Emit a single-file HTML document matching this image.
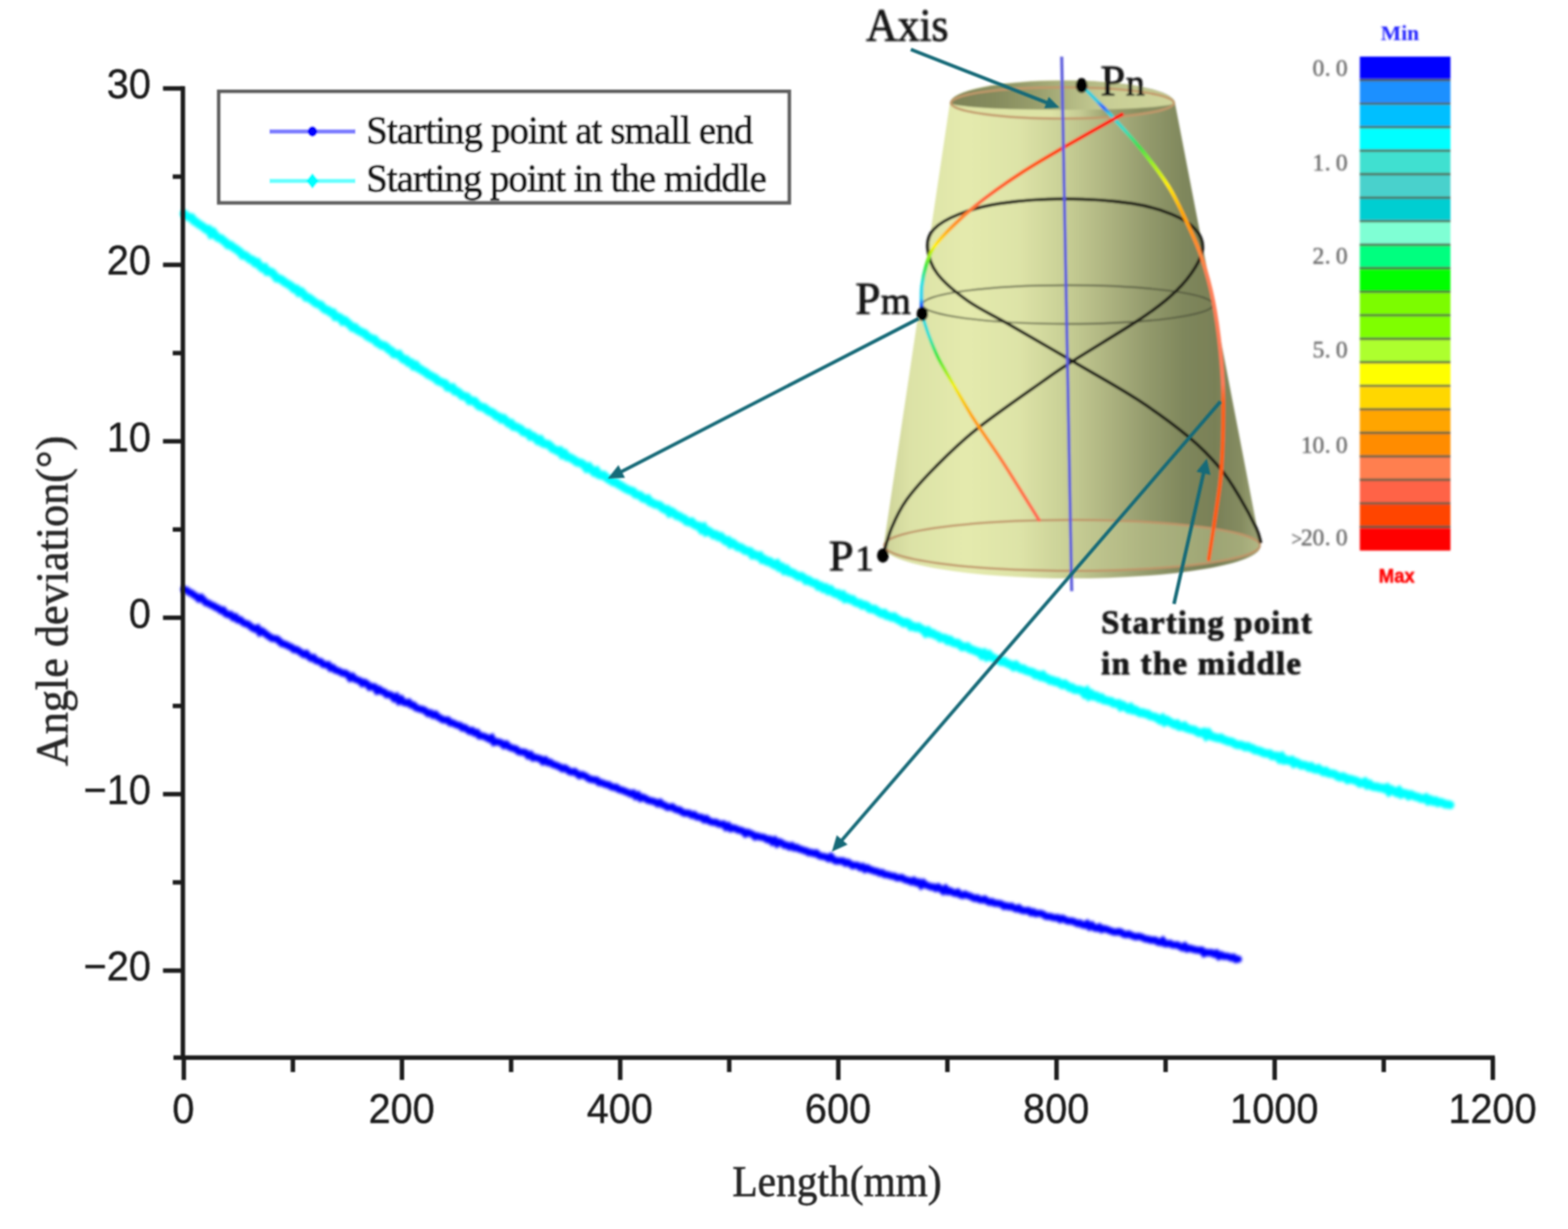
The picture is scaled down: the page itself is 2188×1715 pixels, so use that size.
<!DOCTYPE html>
<html lang="en">
<head>
<meta charset="utf-8">
<title>Angle deviation vs length</title>
<style>
html,body{margin:0;padding:0;background:#ffffff;}
body{width:2188px;height:1715px;overflow:hidden;}
svg{display:block;}
</style>
</head>
<body>
<svg role="img" aria-label="Angle deviation versus length for two starting points on a conical mandrel" width="2188" height="1715" viewBox="0 0 2188 1715">
<defs>
<linearGradient id="gBody" x1="0" y1="0" x2="1" y2="0"><stop offset="0" stop-color="#ccd298"/><stop offset="0.07" stop-color="#dce2a6"/><stop offset="0.22" stop-color="#e4eaad"/><stop offset="0.36" stop-color="#dde3a7"/><stop offset="0.47" stop-color="#cad197"/><stop offset="0.58" stop-color="#b1b783"/><stop offset="0.7" stop-color="#939a6c"/><stop offset="0.8" stop-color="#7e865b"/><stop offset="0.88" stop-color="#798057"/><stop offset="0.95" stop-color="#858c61"/><stop offset="1" stop-color="#9da476"/></linearGradient>
<linearGradient id="gBand" x1="0" y1="0" x2="1" y2="0"><stop offset="0" stop-color="#7d8357"/><stop offset="0.25" stop-color="#8e9464"/><stop offset="0.5" stop-color="#aab07c"/><stop offset="0.75" stop-color="#bcc28b"/><stop offset="1" stop-color="#c5cb92"/></linearGradient>
<linearGradient id="gTop" x1="0" y1="0" x2="1" y2="0"><stop offset="0" stop-color="#7d8357"/><stop offset="0.2" stop-color="#858b5d"/><stop offset="0.4" stop-color="#9aa06e"/><stop offset="0.55" stop-color="#b4ba84"/><stop offset="0.7" stop-color="#c8ce95"/><stop offset="1" stop-color="#cfd59b"/></linearGradient>
<linearGradient id="gFloor" x1="0" y1="0" x2="1" y2="0"><stop offset="0" stop-color="#e2e8ab" stop-opacity="0"/><stop offset="0.45" stop-color="#e2e8ab" stop-opacity="0.05"/><stop offset="0.62" stop-color="#dde3a6" stop-opacity="0.3"/><stop offset="0.8" stop-color="#d8dea2" stop-opacity="0.42"/><stop offset="1" stop-color="#d8dea2" stop-opacity="0.35"/></linearGradient>
<linearGradient id="gCres" x1="0" y1="0" x2="1" y2="0"><stop offset="0" stop-color="#dfe5a6"/><stop offset="0.45" stop-color="#dde3a5"/><stop offset="0.58" stop-color="#c5cb93"/><stop offset="0.7" stop-color="#9aa06e"/><stop offset="0.85" stop-color="#878d5f"/><stop offset="1" stop-color="#8a9062"/></linearGradient>
<linearGradient id="gGeoA" gradientUnits="userSpaceOnUse" x1="0" y1="118" x2="0" y2="781"><stop offset="0" stop-color="#3fd6d0"/><stop offset="0.035" stop-color="#38c8e0"/><stop offset="0.048" stop-color="#3060ff"/><stop offset="0.062" stop-color="#35cfd8"/><stop offset="0.095" stop-color="#40dcc0"/><stop offset="0.13" stop-color="#40e050"/><stop offset="0.17" stop-color="#a8f020"/><stop offset="0.21" stop-color="#ffee00"/><stop offset="0.27" stop-color="#ffa800"/><stop offset="0.33" stop-color="#ff8c28"/><stop offset="0.4" stop-color="#ff8058"/><stop offset="0.63" stop-color="#ff7a5a"/><stop offset="0.67" stop-color="#ff6018"/><stop offset="1" stop-color="#ff5a10"/></linearGradient>
<linearGradient id="gGeoB" gradientUnits="userSpaceOnUse" x1="0" y1="159" x2="0" y2="430"><stop offset="0" stop-color="#ff1010"/><stop offset="0.12" stop-color="#ff2a10"/><stop offset="0.25" stop-color="#ff5510"/><stop offset="0.45" stop-color="#ff6a40"/><stop offset="0.58" stop-color="#ff9a20"/><stop offset="0.68" stop-color="#fff000"/><stop offset="0.78" stop-color="#40e840"/><stop offset="0.87" stop-color="#30e0e0"/><stop offset="0.95" stop-color="#30d0f0"/><stop offset="1" stop-color="#1030ff"/></linearGradient>
<linearGradient id="gGeoC" gradientUnits="userSpaceOnUse" x1="0" y1="440" x2="0" y2="726"><stop offset="0" stop-color="#30d8e0"/><stop offset="0.1" stop-color="#30e0d0"/><stop offset="0.2" stop-color="#40e840"/><stop offset="0.34" stop-color="#f0f000"/><stop offset="0.5" stop-color="#ffa500"/><stop offset="0.7" stop-color="#ff8040"/><stop offset="1" stop-color="#ff6a55"/></linearGradient>
<filter id="softA" x="-1%" y="-1%" width="102%" height="102%"><feGaussianBlur stdDeviation="1.1"/></filter>
<filter id="softC" x="-1%" y="-1%" width="102%" height="102%"><feGaussianBlur stdDeviation="1.9"/></filter>
<filter id="softB" x="-3%" y="-3%" width="106%" height="106%"><feGaussianBlur stdDeviation="1.6"/></filter>
</defs>
<rect x="0" y="0" width="2188" height="1715" fill="#ffffff"/>
<g filter="url(#softC)">
<path d="M257.0 298.2 L260.4 301.5 L263.8 303.1 L267.2 303.5 L270.6 308.2 L274.0 310.2 L277.4 312.9 L280.8 314.8 L284.2 317.2 L287.6 320.0 L291.0 319.9 L294.4 326.3 L297.8 324.4 L301.2 329.0 L304.7 332.0 L308.1 332.5 L311.5 335.8 L314.9 338.2 L318.3 342.0 L321.7 342.1 L325.1 345.0 L328.5 347.0 L331.9 349.4 L335.3 352.0 L338.7 356.3 L342.1 356.3 L345.5 358.9 L348.9 362.1 L352.3 362.7 L355.7 366.7 L359.1 366.1 L362.5 371.0 L365.9 374.1 L369.3 373.3 L372.7 379.0 L376.1 378.9 L379.5 380.3 L382.9 384.0 L386.3 388.4 L389.7 388.7 L393.1 390.5 L396.6 393.4 L400.0 395.5 L403.4 397.3 L406.8 399.6 L410.2 403.2 L413.6 403.2 L417.0 408.2 L420.4 407.2 L423.8 410.7 L427.2 415.1 L430.6 415.3 L434.0 417.8 L437.4 420.4 L440.8 423.1 L444.2 424.5 L447.6 425.6 L451.0 429.7 L454.4 432.2 L457.8 433.0 L461.2 436.1 L464.6 436.3 L468.0 442.0 L471.4 442.0 L474.8 443.5 L478.2 448.4 L481.6 447.4 L485.0 450.5 L488.4 453.3 L491.9 457.2 L495.3 456.9 L498.7 460.7 L502.1 462.2 L505.5 464.0 L508.9 465.3 L512.3 469.0 L515.7 471.0 L519.1 472.9 L522.5 473.4 L525.9 478.1 L529.3 479.6 L532.7 482.2 L536.1 482.2 L539.5 484.6 L542.9 488.1 L546.3 489.6 L549.7 494.0 L553.1 494.4 L556.5 494.2 L559.9 498.8 L563.3 501.7 L566.7 501.7 L570.1 505.9 L573.5 506.1 L576.9 510.7 L580.3 509.6 L583.8 514.0 L587.2 515.4 L590.6 517.9 L594.0 519.4 L597.4 522.7 L600.8 524.1 L604.2 526.2 L607.6 527.7 L611.0 531.4 L614.4 532.7 L617.8 534.2 L621.2 535.2 L624.6 540.5 L628.0 541.2 L631.4 540.8 L634.8 545.9 L638.2 546.3 L641.6 548.9 L645.0 552.5 L648.4 552.9 L651.8 554.0 L655.2 559.2 L658.6 559.1 L662.0 559.7 L665.4 563.7 L668.8 567.0 L672.2 568.0 L675.7 568.7 L679.1 571.7 L682.5 574.1 L685.9 575.1 L689.3 577.3 L692.7 580.7 L696.1 581.3 L699.5 584.9 L702.9 583.9 L706.3 587.3 L709.7 590.7 L713.1 590.5 L716.5 595.2 L719.9 595.6 L723.3 597.2 L726.7 598.7 L730.1 602.9 L733.5 603.8 L736.9 604.3 L740.3 609.1 L743.7 608.5 L747.1 611.0 L750.5 614.8 L753.9 613.5 L757.3 618.4 L760.7 619.6 L764.1 619.7 L767.5 622.0 L771.0 626.0 L774.4 627.4 L777.8 629.3 L781.2 628.7 L784.6 634.3 L788.0 633.0 L791.4 637.8 L794.8 638.2 L798.2 640.2 L801.6 642.2 L805.0 644.9 L808.4 645.6 L811.8 646.6 L815.2 649.2 L818.6 653.4 L822.0 651.5 L825.4 655.5 L828.8 658.8 L832.2 657.1 L835.6 662.5 L839.0 663.4 L842.4 662.9 L845.8 666.0 L849.2 668.8 L852.6 670.6 L856.0 672.9 L859.4 672.9 L862.9 676.0 L866.3 677.5 L869.7 679.8 L873.1 681.9 L876.5 683.5 L879.9 684.8 L883.3 685.7 L886.7 689.7 L890.1 690.5 L893.5 691.5 L896.9 695.1 L900.3 696.3 L903.7 695.8 L907.1 700.6 L910.5 701.6 L913.9 703.8 L917.3 704.2 L920.7 705.4 L924.1 708.9 L927.5 710.9 L930.9 710.8 L934.3 715.8 L937.7 714.2 L941.1 716.6 L944.5 719.8 L947.9 720.2 L951.3 722.8 L954.8 723.9 L958.2 727.7 L961.6 728.6 L965.0 728.0 L968.4 731.7 L971.8 733.6 L975.2 733.9 L978.6 738.5 L982.0 736.1 L985.4 742.4 L988.8 741.1 L992.2 743.3 L995.6 746.6 L999.0 746.1 L1002.4 749.1 L1005.8 748.5 L1009.2 752.1 L1012.6 755.0 L1016.0 754.3 L1019.4 759.2 L1022.8 758.0 L1026.2 760.6 L1029.6 763.5 L1033.0 763.6 L1036.4 765.6 L1039.8 768.4 L1043.2 768.8 L1046.6 769.6 L1050.1 774.6 L1053.5 774.0 L1056.9 776.1 L1060.3 775.5 L1063.7 781.0 L1067.1 780.6 L1070.5 783.7 L1073.9 783.3 L1077.3 786.4 L1080.7 788.4 L1084.1 786.7 L1087.5 791.9 L1090.9 791.1 L1094.3 796.0 L1097.7 794.3 L1101.1 798.4 L1104.5 798.8 L1107.9 800.4 L1111.3 802.8 L1114.7 804.8 L1118.1 804.0 L1121.5 806.2 L1124.9 810.2 L1128.3 809.5 L1131.7 812.1 L1135.1 813.6 L1138.5 814.1 L1142.0 818.3 L1145.4 817.6 L1148.8 821.3 L1152.2 820.2 L1155.6 824.2 L1159.0 822.8 L1162.4 826.5 L1165.8 828.4 L1169.2 828.0 L1172.6 831.4 L1176.0 830.1 L1179.4 835.4 L1182.8 834.3 L1186.2 836.8 L1189.6 836.5 L1193.0 840.1 L1196.4 841.5 L1199.8 841.7 L1203.2 844.7 L1206.6 844.1 L1210.0 845.6 L1213.4 849.4 L1216.8 850.1 L1220.2 849.8 L1223.6 852.4 L1227.0 854.6 L1230.4 856.4 L1233.9 855.7 L1237.3 859.2 L1240.7 859.6 L1244.1 861.5 L1247.5 860.5 L1250.9 863.3 L1254.3 865.3 L1257.7 867.1 L1261.1 869.5 L1264.5 868.4 L1267.9 869.9 L1271.3 874.3 L1274.7 873.8 L1278.1 875.8 L1281.5 874.7 L1284.9 877.2 L1288.3 878.9 L1291.7 883.1 L1295.1 880.5 L1298.5 884.0 L1301.9 883.8 L1305.3 886.5 L1308.7 887.1 L1312.1 890.5 L1315.5 889.9 L1318.9 890.6 L1322.3 894.1 L1325.7 893.1 L1329.2 896.4 L1332.6 897.5 L1336.0 897.3 L1339.4 899.8 L1342.8 902.9 L1346.2 902.5 L1349.6 902.1 L1353.0 905.5 L1356.4 906.5 L1359.8 907.9 L1363.2 909.3 L1366.6 910.1 L1370.0 914.1 L1373.4 911.7 L1376.8 916.2 L1380.2 913.6 L1383.6 917.1 L1387.0 918.3 L1390.4 920.1 L1393.8 921.3 L1397.2 923.4 L1400.6 922.4 L1404.0 924.9 L1407.4 926.5 L1410.8 927.7 L1414.2 930.5 L1417.6 928.2 L1421.1 931.3 L1424.5 933.3 L1427.9 933.1 L1431.3 935.7 L1434.7 936.6 L1438.1 937.5 L1441.5 938.5 L1444.9 941.9 L1448.3 941.5 L1451.7 944.0 L1455.1 942.2 L1458.5 946.0 L1461.9 946.6 L1465.3 949.5 L1468.7 949.1 L1472.1 951.4 L1475.5 951.1 L1478.9 953.6 L1482.3 955.7 L1485.7 954.2 L1489.1 956.8 L1492.5 959.5 L1495.9 959.3 L1499.3 962.2 L1502.7 962.5 L1506.1 962.6 L1509.5 963.8 L1513.0 967.8 L1516.4 964.8 L1519.8 970.9 L1523.2 968.5 L1526.6 971.6 L1530.0 971.0 L1533.4 974.2 L1536.8 973.4 L1540.2 976.9 L1543.6 977.4 L1547.0 978.3 L1550.4 978.6 L1553.8 981.6 L1557.2 981.9 L1560.6 981.7 L1564.0 986.2 L1567.4 984.4 L1570.8 986.8 L1574.2 989.3 L1577.6 987.2 L1581.0 991.2 L1584.4 990.7 L1587.8 993.1 L1591.2 994.9 L1594.6 994.4 L1598.0 996.1 L1601.4 996.2 L1604.8 999.0 L1608.3 999.7 L1611.7 1000.3 L1615.1 1002.5 L1618.5 1004.9 L1621.9 1002.5 L1625.3 1007.3 L1628.7 1005.1 L1632.1 1007.2 L1635.5 1009.4 L1638.9 1011.1 L1642.3 1010.0 L1645.7 1013.9 L1649.1 1014.0 L1652.5 1012.8 L1655.9 1016.2 L1659.3 1017.1 L1662.7 1018.2 L1666.1 1018.4 L1669.5 1020.6 L1672.9 1022.6 L1676.3 1022.5 L1679.7 1021.6 L1683.1 1026.5 L1686.5 1023.3 L1689.9 1027.4 L1693.3 1028.3 L1696.7 1029.2 L1700.2 1030.2 L1703.6 1029.5 L1707.0 1032.1 L1710.4 1033.0 L1713.8 1034.6 L1717.2 1034.9 L1720.6 1036.3 L1724.0 1038.6 L1727.4 1039.5 L1730.8 1039.4 L1734.2 1040.5 L1737.6 1042.5 L1741.0 1041.6 L1744.4 1043.5 L1747.8 1044.2 L1751.2 1046.8 L1754.6 1047.2 L1758.0 1048.0 L1761.4 1049.8 L1764.8 1051.1 L1768.2 1051.4 L1771.6 1051.5 L1775.0 1054.8 L1778.4 1054.6 L1781.8 1054.8 L1785.2 1058.8 L1788.6 1056.1 L1792.1 1061.0 L1795.5 1060.4 L1798.9 1061.6 L1802.3 1060.7 L1805.7 1065.4 L1809.1 1063.8 L1812.5 1065.5 L1815.9 1068.1 L1819.3 1067.5 L1822.7 1068.5 L1826.1 1070.9 L1829.5 1069.6 L1832.9 1072.7 L1836.3 1073.8 L1839.7 1072.3 L1843.1 1075.0 L1846.5 1077.2 L1849.9 1075.9 L1853.3 1078.8 L1856.7 1079.7 L1860.1 1079.7 L1863.5 1080.9 L1866.9 1083.6 L1870.3 1084.7 L1873.7 1083.6 L1877.1 1085.1 L1880.5 1088.1 L1883.9 1087.1 L1887.4 1088.1 L1890.8 1089.0 L1894.2 1090.3 L1897.6 1093.1 L1901.0 1092.8 L1904.4 1091.2 L1907.8 1095.6 L1911.2 1094.1 L1914.6 1097.1 L1918.0 1098.0 L1921.4 1097.8 L1924.8 1099.3 L1928.2 1099.4 L1931.6 1100.8 L1935.0 1099.2 L1938.4 1104.6 L1941.8 1102.1 L1945.2 1104.1 L1948.6 1106.1 L1952.0 1103.6 L1955.4 1108.3 L1958.8 1106.8 L1962.2 1107.5 L1965.6 1110.6 L1969.0 1108.8 L1972.4 1110.3 L1975.8 1111.9 L1979.3 1112.5 L1982.7 1114.5 L1986.1 1114.6 L1989.5 1113.2 L1992.9 1117.6 L1996.3 1115.9 L1999.7 1118.4 L2003.1 1117.4 L2006.5 1120.3 L2009.9 1119.4 L2013.3 1120.4 L2016.7 1122.3 L2020.1 1122.4 L2023.5 1123.2" fill="none" stroke="#00ffff" stroke-width="11.8" stroke-linecap="round" stroke-linejoin="miter"/>
<path d="M257.0 822.5 L260.4 823.6 L263.8 826.4 L267.2 827.7 L270.6 830.4 L274.0 832.2 L277.4 835.7 L280.8 833.9 L284.2 837.5 L287.6 841.1 L291.1 841.9 L294.5 844.3 L297.9 845.3 L301.3 847.7 L304.7 848.9 L308.1 852.0 L311.5 851.4 L314.9 856.2 L318.3 857.6 L321.7 857.5 L325.1 861.4 L328.5 860.7 L331.9 865.0 L335.3 865.0 L338.7 868.3 L342.1 870.2 L345.5 870.8 L348.9 873.4 L352.3 876.2 L355.7 877.8 L359.2 876.5 L362.6 882.6 L366.0 880.9 L369.4 883.4 L372.8 886.3 L376.2 888.5 L379.6 890.8 L383.0 891.1 L386.4 891.7 L389.8 894.8 L393.2 897.9 L396.6 898.8 L400.0 900.1 L403.4 902.0 L406.8 903.3 L410.2 906.5 L413.6 906.4 L417.0 908.4 L420.4 911.0 L423.8 913.3 L427.3 911.9 L430.7 916.0 L434.1 918.5 L437.5 917.6 L440.9 921.7 L444.3 922.7 L447.7 923.5 L451.1 927.2 L454.5 927.8 L457.9 927.6 L461.3 932.3 L464.7 931.8 L468.1 935.2 L471.5 935.9 L474.9 937.7 L478.3 939.5 L481.7 939.4 L485.1 941.4 L488.5 946.2 L492.0 944.1 L495.4 947.7 L498.8 948.9 L502.2 950.1 L505.6 953.7 L509.0 952.3 L512.4 954.4 L515.8 958.9 L519.2 958.1 L522.6 958.6 L526.0 963.9 L529.4 962.1 L532.8 964.8 L536.2 965.7 L539.6 969.4 L543.0 969.1 L546.4 970.4 L549.8 974.4 L553.2 972.3 L556.6 978.1 L560.1 975.8 L563.5 980.2 L566.9 981.1 L570.3 980.0 L573.7 983.9 L577.1 984.0 L580.5 987.7 L583.9 988.8 L587.3 989.8 L590.7 990.3 L594.1 992.5 L597.5 995.7 L600.9 995.0 L604.3 998.1 L607.7 996.8 L611.1 1000.4 L614.5 1002.1 L617.9 1004.3 L621.3 1004.7 L624.8 1004.7 L628.2 1008.6 L631.6 1008.8 L635.0 1010.5 L638.4 1011.9 L641.8 1012.4 L645.2 1015.7 L648.6 1015.4 L652.0 1018.0 L655.4 1020.5 L658.8 1019.4 L662.2 1022.9 L665.6 1022.2 L669.0 1026.8 L672.4 1026.9 L675.8 1027.7 L679.2 1029.5 L682.6 1031.4 L686.0 1029.6 L689.4 1036.0 L692.9 1035.1 L696.3 1035.7 L699.7 1036.9 L703.1 1040.2 L706.5 1038.6 L709.9 1041.9 L713.3 1043.6 L716.7 1044.4 L720.1 1045.3 L723.5 1048.7 L726.9 1049.4 L730.3 1049.5 L733.7 1050.4 L737.1 1054.4 L740.5 1053.0 L743.9 1057.5 L747.3 1057.0 L750.7 1058.1 L754.1 1058.9 L757.5 1062.6 L761.0 1060.6 L764.4 1064.1 L767.8 1063.9 L771.2 1066.6 L774.6 1067.6 L778.0 1068.9 L781.4 1070.4 L784.8 1072.7 L788.2 1071.7 L791.6 1074.0 L795.0 1076.8 L798.4 1077.4 L801.8 1076.6 L805.2 1079.5 L808.6 1082.3 L812.0 1081.1 L815.4 1082.3 L818.8 1084.3 L822.2 1086.9 L825.7 1087.8 L829.1 1088.2 L832.5 1088.6 L835.9 1092.1 L839.3 1092.2 L842.7 1093.6 L846.1 1094.8 L849.5 1095.3 L852.9 1097.7 L856.3 1098.7 L859.7 1098.5 L863.1 1101.4 L866.5 1102.5 L869.9 1103.2 L873.3 1104.9 L876.7 1106.1 L880.1 1107.9 L883.5 1106.8 L886.9 1111.2 L890.3 1109.4 L893.8 1114.0 L897.2 1112.6 L900.6 1114.1 L904.0 1116.5 L907.4 1117.3 L910.8 1118.1 L914.2 1119.0 L917.6 1121.4 L921.0 1119.8 L924.4 1123.0 L927.8 1123.9 L931.2 1126.5 L934.6 1126.6 L938.0 1125.9 L941.4 1128.7 L944.8 1130.1 L948.2 1130.4 L951.6 1133.0 L955.0 1134.7 L958.4 1134.6 L961.9 1135.1 L965.3 1137.5 L968.7 1136.7 L972.1 1139.7 L975.5 1140.3 L978.9 1140.8 L982.3 1143.8 L985.7 1142.4 L989.1 1145.4 L992.5 1147.0 L995.9 1147.6 L999.3 1147.5 L1002.7 1149.8 L1006.1 1150.2 L1009.5 1150.0 L1012.9 1154.3 L1016.3 1152.4 L1019.7 1156.4 L1023.1 1155.5 L1026.6 1156.3 L1030.0 1158.3 L1033.4 1158.6 L1036.8 1160.0 L1040.2 1163.5 L1043.6 1161.6 L1047.0 1163.0 L1050.4 1164.4 L1053.8 1167.7 L1057.2 1166.6 L1060.6 1168.0 L1064.0 1168.3 L1067.4 1169.4 L1070.8 1171.7 L1074.2 1171.2 L1077.6 1174.9 L1081.0 1172.5 L1084.4 1177.3 L1087.8 1174.9 L1091.2 1176.5 L1094.7 1179.6 L1098.1 1179.3 L1101.5 1181.7 L1104.9 1180.2 L1108.3 1183.2 L1111.7 1182.6 L1115.1 1184.7 L1118.5 1185.5 L1121.9 1186.9 L1125.3 1187.5 L1128.7 1189.8 L1132.1 1189.6 L1135.5 1191.1 L1138.9 1190.3 L1142.3 1193.4 L1145.7 1194.8 L1149.1 1195.1 L1152.5 1195.9 L1155.9 1197.9 L1159.3 1195.4 L1162.8 1199.4 L1166.2 1201.4 L1169.6 1201.3 L1173.0 1201.6 L1176.4 1201.6 L1179.8 1204.4 L1183.2 1203.4 L1186.6 1205.7 L1190.0 1208.1 L1193.4 1207.4 L1196.8 1207.8 L1200.2 1210.6 L1203.6 1209.3 L1207.0 1213.0 L1210.4 1211.2 L1213.8 1213.5 L1217.2 1214.3 L1220.6 1215.8 L1224.0 1216.1 L1227.5 1218.3 L1230.9 1217.7 L1234.3 1220.4 L1237.7 1220.5 L1241.1 1221.5 L1244.5 1222.5 L1247.9 1222.6 L1251.3 1224.8 L1254.7 1224.9 L1258.1 1224.6 L1261.5 1226.7 L1264.9 1228.2 L1268.3 1228.7 L1271.7 1230.5 L1275.1 1228.7 L1278.5 1231.9 L1281.9 1231.0 L1285.3 1235.3 L1288.7 1232.0 L1292.1 1235.1 L1295.6 1236.1 L1299.0 1237.8 L1302.4 1237.6 L1305.8 1239.7 L1309.2 1237.8 L1312.6 1240.3 L1316.0 1243.4 L1319.4 1240.1 L1322.8 1244.2 L1326.2 1243.3 L1329.6 1245.5 L1333.0 1246.7 L1336.4 1245.1 L1339.8 1248.6 L1343.2 1249.6 L1346.6 1247.9 L1350.0 1249.6 L1353.4 1250.4 L1356.8 1252.2 L1360.2 1253.7 L1363.7 1253.0 L1367.1 1255.5 L1370.5 1255.9 L1373.9 1254.7 L1377.3 1257.2 L1380.7 1259.1 L1384.1 1258.4 L1387.5 1260.4 L1390.9 1260.5 L1394.3 1260.9 L1397.7 1261.8 L1401.1 1264.7 L1404.5 1263.9 L1407.9 1265.5 L1411.3 1264.7 L1414.7 1266.9 L1418.1 1268.3 L1421.5 1266.9 L1424.9 1269.9 L1428.4 1270.7 L1431.8 1270.8 L1435.2 1270.6 L1438.6 1273.6 L1442.0 1272.5 L1445.4 1274.9 L1448.8 1274.4 L1452.2 1274.6 L1455.6 1275.9 L1459.0 1278.5 L1462.4 1278.9 L1465.8 1279.0 L1469.2 1280.4 L1472.6 1280.8 L1476.0 1280.6 L1479.4 1283.2 L1482.8 1281.6 L1486.2 1283.4 L1489.6 1285.1 L1493.0 1285.3 L1496.5 1285.5 L1499.9 1286.8 L1503.3 1288.6 L1506.7 1288.1 L1510.1 1290.4 L1513.5 1291.2 L1516.9 1289.0 L1520.3 1293.2 L1523.7 1291.1 L1527.1 1294.6 L1530.5 1295.4 L1533.9 1293.7 L1537.3 1297.1 L1540.7 1296.0 L1544.1 1296.7 L1547.5 1298.2 L1550.9 1299.4 L1554.3 1300.6 L1557.7 1300.8 L1561.2 1300.0 L1564.6 1301.0 L1568.0 1303.7 L1571.4 1304.4 L1574.8 1303.4 L1578.2 1304.9 L1581.6 1306.3 L1585.0 1307.4 L1588.4 1306.6 L1591.8 1307.3 L1595.2 1308.7 L1598.6 1310.4 L1602.0 1310.5 L1605.4 1311.9 L1608.8 1311.7 L1612.2 1311.9 L1615.6 1314.6 L1619.0 1315.2 L1622.4 1312.5 L1625.8 1316.9 L1629.3 1317.0 L1632.7 1316.4 L1636.1 1318.6 L1639.5 1318.7 L1642.9 1318.5 L1646.3 1320.7 L1649.7 1322.5 L1653.1 1320.2 L1656.5 1324.1 L1659.9 1323.2 L1663.3 1324.1 L1666.7 1325.1 L1670.1 1325.7 L1673.5 1326.1 L1676.9 1326.1 L1680.3 1330.5 L1683.7 1329.0 L1687.1 1329.6 L1690.5 1329.3 L1693.9 1331.4 L1697.4 1330.0 L1700.8 1334.5 L1704.2 1332.5 L1707.6 1334.6 L1711.0 1334.2 L1714.4 1335.0 L1717.8 1336.6 L1721.2 1335.7 L1724.6 1338.9 L1728.0 1338.4" fill="none" stroke="#0000ff" stroke-width="10" stroke-linecap="round" stroke-linejoin="miter"/>
</g>
<g filter="url(#softA)">
<g stroke="#1c1c1c" stroke-width="6.2" fill="none">
<line x1="255.2" y1="120.3" x2="255.2" y2="1478.8"/>
<line x1="242.0" y1="1475.8" x2="2086.0" y2="1475.8"/>
<line x1="227.5" y1="123.4" x2="255.2" y2="123.4"/>
<line x1="227.5" y1="369.6" x2="255.2" y2="369.6"/>
<line x1="227.5" y1="615.8" x2="255.2" y2="615.8"/>
<line x1="227.5" y1="862.0" x2="255.2" y2="862.0"/>
<line x1="227.5" y1="1108.2" x2="255.2" y2="1108.2"/>
<line x1="227.5" y1="1354.4" x2="255.2" y2="1354.4"/>
<line x1="241.0" y1="246.5" x2="255.2" y2="246.5"/>
<line x1="241.0" y1="492.7" x2="255.2" y2="492.7"/>
<line x1="241.0" y1="738.9" x2="255.2" y2="738.9"/>
<line x1="241.0" y1="985.1" x2="255.2" y2="985.1"/>
<line x1="241.0" y1="1231.3" x2="255.2" y2="1231.3"/>
<line x1="256.5" y1="1475.8" x2="256.5" y2="1507.0"/>
<line x1="560.9" y1="1475.8" x2="560.9" y2="1507.0"/>
<line x1="865.4" y1="1475.8" x2="865.4" y2="1507.0"/>
<line x1="1169.8" y1="1475.8" x2="1169.8" y2="1507.0"/>
<line x1="1474.3" y1="1475.8" x2="1474.3" y2="1507.0"/>
<line x1="1778.7" y1="1475.8" x2="1778.7" y2="1507.0"/>
<line x1="2083.1" y1="1475.8" x2="2083.1" y2="1507.0"/>
<line x1="408.7" y1="1475.8" x2="408.7" y2="1496.0"/>
<line x1="713.2" y1="1475.8" x2="713.2" y2="1496.0"/>
<line x1="1017.6" y1="1475.8" x2="1017.6" y2="1496.0"/>
<line x1="1322.0" y1="1475.8" x2="1322.0" y2="1496.0"/>
<line x1="1626.5" y1="1475.8" x2="1626.5" y2="1496.0"/>
<line x1="1930.9" y1="1475.8" x2="1930.9" y2="1496.0"/>
</g>
<g font-family="'Liberation Sans', Arial, sans-serif" font-size="58" fill="#1c1c1c" stroke="#1c1c1c" stroke-width="0.5">
<text x="148.9" y="137.1" textLength="61.6" lengthAdjust="spacingAndGlyphs">30</text>
<text x="148.9" y="383.3" textLength="61.6" lengthAdjust="spacingAndGlyphs">20</text>
<text x="148.9" y="629.5" textLength="61.6" lengthAdjust="spacingAndGlyphs">10</text>
<text x="179.7" y="875.7" textLength="30.8" lengthAdjust="spacingAndGlyphs">0</text>
<text x="116.6" y="1121.9" textLength="93.9" lengthAdjust="spacingAndGlyphs">−10</text>
<text x="116.6" y="1368.1" textLength="93.9" lengthAdjust="spacingAndGlyphs">−20</text>
<text x="240.6" y="1567" textLength="30.8" lengthAdjust="spacingAndGlyphs">0</text>
<text x="514.2" y="1567" textLength="92.4" lengthAdjust="spacingAndGlyphs">200</text>
<text x="818.7" y="1567" textLength="92.4" lengthAdjust="spacingAndGlyphs">400</text>
<text x="1123.1" y="1567" textLength="92.4" lengthAdjust="spacingAndGlyphs">600</text>
<text x="1427.6" y="1567" textLength="92.4" lengthAdjust="spacingAndGlyphs">800</text>
<text x="1716.6" y="1567" textLength="123.2" lengthAdjust="spacingAndGlyphs">1000</text>
<text x="2021.0" y="1567" textLength="123.2" lengthAdjust="spacingAndGlyphs">1200</text>
</g>
<g font-family="'Liberation Serif', 'Times New Roman', serif" fill="#262626" stroke="#262626" stroke-width="0.8">
<text x="1168" y="1668.5" font-size="62" text-anchor="middle" textLength="292" lengthAdjust="spacingAndGlyphs">Length(mm)</text>
<text transform="translate(94 838.5) rotate(-90)" font-size="63.5" text-anchor="middle" textLength="461" lengthAdjust="spacingAndGlyphs">Angle deviation(°)</text>
</g>
<rect x="305.3" y="127.6" width="796" height="155.4" fill="#ffffff" stroke="#606060" stroke-width="5.2"/>
<line x1="376" y1="183.5" x2="496" y2="183.5" stroke="#7c7cff" stroke-width="5.8"/>
<ellipse cx="436" cy="183.5" rx="6.6" ry="7.2" fill="#0000ff"/>
<line x1="376" y1="252.5" x2="496" y2="252.5" stroke="#66ffff" stroke-width="5.8"/>
<polygon points="436,243.2 443.6,252.5 436,261.8 428.4,252.5" fill="#00ffff" stroke="#00ffff" stroke-width="2" stroke-linejoin="round"/>
<g font-family="'Liberation Serif', 'Times New Roman', serif" font-size="54" fill="#1a1a1a" stroke="#1a1a1a" stroke-width="1.4" stroke-linejoin="round">
<text x="511" y="199.5" textLength="540" lengthAdjust="spacing">Starting point at small end</text>
<text x="511" y="266.5" textLength="559" lengthAdjust="spacing">Starting point in the middle</text>
</g>
</g>
<g filter="url(#softB)">
<path d="M1325.5 143.6 L1233.0 762.0 A263.0 45.0 0 0 0 1759.0 762.0 L1639.5 143.6 A157.0 31.6 0 0 0 1325.5 143.6 Z" fill="url(#gBody)"/>
<path d="M1325.5 144.1 A157.0 31.6 0 0 1 1639.5 144.1 Z" fill="url(#gBand)"/>
<ellipse cx="1482.5" cy="143.7" rx="155.5" ry="21.8" fill="url(#gTop)"/>
<path d="M1327.0 143.7 A155.5 21.8 0 0 0 1638.0 143.7 A155.5 9.6 0 0 1 1327.0 143.7 Z" fill="url(#gCres)"/>
<ellipse cx="1482.5" cy="143.7" rx="155.5" ry="21.8" fill="none" stroke="#c2986a" stroke-width="3.2"/>
<ellipse cx="1496.0" cy="761.1" rx="262.0" ry="35.5" fill="url(#gFloor)" stroke="#bf9468" stroke-width="3"/>
<ellipse cx="1490" cy="425" rx="203" ry="27" fill="none" stroke="#4a4f38" stroke-opacity="0.8" stroke-width="2.3"/>
<path d="M1233.0 773.0 C1234.8 767.0 1238.7 749.6 1244.0 737.0 C1249.3 724.4 1254.8 711.7 1265.0 697.5 C1275.2 683.3 1288.8 668.3 1305.0 652.0 C1321.2 635.7 1337.0 619.5 1362.0 599.5 C1387.0 579.5 1432.9 547.9 1455.3 532.0 C1477.7 516.1 1474.6 518.1 1496.6 504.0 C1518.6 489.9 1565.0 462.3 1587.5 447.5 C1610.0 432.7 1619.1 425.9 1631.5 415.0 C1643.9 404.1 1654.2 393.2 1662.0 382.0 C1669.8 370.8 1677.0 358.3 1678.0 348.0 C1679.0 337.7 1675.2 328.2 1668.0 320.0 C1660.8 311.8 1649.7 305.0 1635.0 299.0 C1620.3 293.0 1604.9 287.6 1580.0 284.0 C1555.1 280.4 1516.4 277.5 1485.6 277.5 C1454.8 277.5 1419.6 280.4 1395.0 284.0 C1370.4 287.6 1353.3 293.0 1338.0 299.0 C1322.7 305.0 1310.2 312.2 1303.0 320.0 C1295.8 327.8 1293.7 335.7 1294.5 346.0 C1295.3 356.3 1298.6 369.7 1308.0 382.0 C1317.4 394.3 1334.0 408.2 1350.7 420.0 C1367.5 431.8 1384.2 439.0 1408.5 453.0 C1432.8 467.0 1466.8 486.6 1496.6 504.0 C1526.4 521.5 1560.4 540.0 1587.5 557.7 C1614.6 575.4 1639.8 594.0 1659.0 610.0 C1678.2 626.0 1691.0 639.8 1703.0 654.0 C1715.0 668.2 1722.4 681.5 1730.7 695.3 C1739.0 709.1 1748.0 726.5 1752.7 736.6 C1757.4 746.7 1758.0 752.8 1759.0 756.0" fill="none" stroke="#1a1d13" stroke-width="4.5" stroke-linecap="round"/>
<path d="M1512.0 122.0 C1518.6 128.7 1538.2 147.9 1551.7 162.4 C1565.2 176.9 1579.7 192.5 1593.0 209.0 C1606.3 225.5 1620.5 243.7 1631.5 261.6 C1642.5 279.5 1651.4 300.2 1659.0 316.6 C1666.6 333.0 1671.3 342.8 1677.0 360.0 C1682.7 377.2 1688.7 398.3 1693.0 420.0 C1697.3 441.7 1700.7 467.1 1703.0 490.0 C1705.3 513.0 1706.8 530.4 1707.0 557.7 C1707.2 585.0 1706.4 626.5 1704.5 654.0 C1702.6 681.5 1698.5 701.8 1695.5 722.9 C1692.5 744.0 1688.1 771.1 1686.6 780.7" fill="none" stroke="url(#gGeoA)" stroke-width="5.2" stroke-linecap="round"/>
<path d="M1565.5 159.7 C1551.7 167.5 1505.9 193.2 1482.9 206.5 C1460.0 219.8 1446.2 227.6 1427.8 239.5 C1409.4 251.4 1388.3 266.1 1372.7 278.0 C1357.1 289.9 1345.7 300.0 1334.2 311.0 C1322.7 322.0 1310.8 334.3 1303.9 344.0 C1297.0 353.7 1295.8 359.8 1292.9 369.0 C1290.0 378.2 1287.7 388.5 1286.5 399.0 C1285.3 409.5 1286.1 426.5 1286.0 432.0" fill="none" stroke="url(#gGeoB)" stroke-width="5.2" stroke-linecap="round"/>
<path d="M1287.0 440.0 C1288.4 444.5 1291.9 456.8 1295.6 466.8 C1299.3 476.8 1303.4 487.9 1309.4 499.8 C1315.4 511.7 1323.1 524.2 1331.4 538.4 C1339.7 552.6 1347.6 567.1 1359.0 585.0 C1370.4 602.9 1384.9 622.4 1400.0 645.8 C1415.1 669.2 1441.5 712.3 1449.8 725.6" fill="none" stroke="url(#gGeoC)" stroke-width="5" stroke-linecap="round"/>
<line x1="1481.5" y1="79" x2="1495.5" y2="825" stroke="#5c5cdc" stroke-width="4.3"/>
<ellipse cx="1509.3" cy="119.3" rx="8.3" ry="10.5" fill="#000"/>
<ellipse cx="1287" cy="438" rx="8" ry="10" fill="#000"/>
<ellipse cx="1232" cy="775.3" rx="8.2" ry="10" fill="#000"/>
<rect x="1897.5" y="79.00" width="126.5" height="33.11" fill="#0000ff"/>
<rect x="1897.5" y="111.81" width="126.5" height="33.11" fill="#1e90ff"/>
<rect x="1897.5" y="144.62" width="126.5" height="33.11" fill="#00bfff"/>
<rect x="1897.5" y="177.43" width="126.5" height="33.11" fill="#00ffff"/>
<rect x="1897.5" y="210.24" width="126.5" height="33.11" fill="#40e0d0"/>
<rect x="1897.5" y="243.05" width="126.5" height="33.11" fill="#48d1cc"/>
<rect x="1897.5" y="275.86" width="126.5" height="33.11" fill="#00ced1"/>
<rect x="1897.5" y="308.67" width="126.5" height="33.11" fill="#7fffd4"/>
<rect x="1897.5" y="341.48" width="126.5" height="33.11" fill="#00ff7f"/>
<rect x="1897.5" y="374.29" width="126.5" height="33.11" fill="#00ff00"/>
<rect x="1897.5" y="407.10" width="126.5" height="33.11" fill="#7cfc00"/>
<rect x="1897.5" y="439.90" width="126.5" height="33.11" fill="#7fff00"/>
<rect x="1897.5" y="472.71" width="126.5" height="33.11" fill="#adff2f"/>
<rect x="1897.5" y="505.52" width="126.5" height="33.11" fill="#ffff00"/>
<rect x="1897.5" y="538.33" width="126.5" height="33.11" fill="#ffd700"/>
<rect x="1897.5" y="571.14" width="126.5" height="33.11" fill="#ffa500"/>
<rect x="1897.5" y="603.95" width="126.5" height="33.11" fill="#ff8c00"/>
<rect x="1897.5" y="636.76" width="126.5" height="33.11" fill="#ff7f50"/>
<rect x="1897.5" y="669.57" width="126.5" height="33.11" fill="#ff6347"/>
<rect x="1897.5" y="702.38" width="126.5" height="33.11" fill="#ff4500"/>
<rect x="1897.5" y="735.19" width="126.5" height="33.11" fill="#ff0000"/>
<line x1="1897.5" y1="111.81" x2="2024.0" y2="111.81" stroke="#55604a" stroke-opacity="0.85" stroke-width="3.4"/>
<line x1="1897.5" y1="144.62" x2="2024.0" y2="144.62" stroke="#55604a" stroke-opacity="0.85" stroke-width="3.4"/>
<line x1="1897.5" y1="177.43" x2="2024.0" y2="177.43" stroke="#55604a" stroke-opacity="0.85" stroke-width="3.4"/>
<line x1="1897.5" y1="210.24" x2="2024.0" y2="210.24" stroke="#55604a" stroke-opacity="0.85" stroke-width="3.4"/>
<line x1="1897.5" y1="243.05" x2="2024.0" y2="243.05" stroke="#55604a" stroke-opacity="0.85" stroke-width="3.4"/>
<line x1="1897.5" y1="275.86" x2="2024.0" y2="275.86" stroke="#55604a" stroke-opacity="0.85" stroke-width="3.4"/>
<line x1="1897.5" y1="308.67" x2="2024.0" y2="308.67" stroke="#55604a" stroke-opacity="0.85" stroke-width="3.4"/>
<line x1="1897.5" y1="341.48" x2="2024.0" y2="341.48" stroke="#55604a" stroke-opacity="0.85" stroke-width="3.4"/>
<line x1="1897.5" y1="374.29" x2="2024.0" y2="374.29" stroke="#55604a" stroke-opacity="0.85" stroke-width="3.4"/>
<line x1="1897.5" y1="407.10" x2="2024.0" y2="407.10" stroke="#55604a" stroke-opacity="0.85" stroke-width="3.4"/>
<line x1="1897.5" y1="439.90" x2="2024.0" y2="439.90" stroke="#55604a" stroke-opacity="0.85" stroke-width="3.4"/>
<line x1="1897.5" y1="472.71" x2="2024.0" y2="472.71" stroke="#55604a" stroke-opacity="0.85" stroke-width="3.4"/>
<line x1="1897.5" y1="505.52" x2="2024.0" y2="505.52" stroke="#55604a" stroke-opacity="0.85" stroke-width="3.4"/>
<line x1="1897.5" y1="538.33" x2="2024.0" y2="538.33" stroke="#55604a" stroke-opacity="0.85" stroke-width="3.4"/>
<line x1="1897.5" y1="571.14" x2="2024.0" y2="571.14" stroke="#55604a" stroke-opacity="0.85" stroke-width="3.4"/>
<line x1="1897.5" y1="603.95" x2="2024.0" y2="603.95" stroke="#55604a" stroke-opacity="0.85" stroke-width="3.4"/>
<line x1="1897.5" y1="636.76" x2="2024.0" y2="636.76" stroke="#55604a" stroke-opacity="0.85" stroke-width="3.4"/>
<line x1="1897.5" y1="669.57" x2="2024.0" y2="669.57" stroke="#55604a" stroke-opacity="0.85" stroke-width="3.4"/>
<line x1="1897.5" y1="702.38" x2="2024.0" y2="702.38" stroke="#55604a" stroke-opacity="0.85" stroke-width="3.4"/>
<line x1="1897.5" y1="735.19" x2="2024.0" y2="735.19" stroke="#55604a" stroke-opacity="0.85" stroke-width="3.4"/>
<g font-family="'Liberation Serif', 'Noto Serif CJK SC', serif" font-size="33" fill="#676767" stroke="#676767" stroke-width="0.5">
<text x="1831.5 1848.4 1863.9" y="106.2">0.0</text>
<text x="1831.5 1848.4 1863.9" y="238.2">1.0</text>
<text x="1831.5 1848.4 1863.9" y="368.2">2.0</text>
<text x="1831.5 1848.4 1863.9" y="499.2">5.0</text>
<text x="1815.3 1831.5 1848.4 1863.9" y="631.7">10.0</text>
<text x="1802.0 1815.3 1831.5 1848.4 1863.9" y="761.2"><tspan font-size="27">&gt;</tspan>20.0</text>
</g>
<text x="1953.5" y="56" font-family="'Liberation Serif', 'Times New Roman', serif" font-weight="bold" font-size="30" fill="#2020ff" text-anchor="middle">Min</text>
<text x="1949" y="813" font-family="'Liberation Sans', Arial, sans-serif" font-weight="bold" font-size="27" fill="#ff0000" stroke="#ff0000" stroke-width="0.6" text-anchor="middle" textLength="50" lengthAdjust="spacingAndGlyphs">Max</text>
<g font-family="'Liberation Serif', 'Times New Roman', serif" fill="#121212" stroke="#121212" stroke-width="1.1">
<text x="1208.5" y="56.6" font-size="65" textLength="115" lengthAdjust="spacingAndGlyphs">Axis</text>
<text x="1535.5" y="133.2" font-size="62">P<tspan x="1571" font-size="53">n</tspan></text>
<text x="1193.5" y="438.4" font-size="63">P<tspan x="1229" font-size="54">m</tspan></text>
<text x="1156.5" y="796.4" font-size="62">P<tspan x="1193.5" font-size="51">1</tspan></text>
</g>
<g font-family="'Liberation Serif', 'Times New Roman', serif" font-weight="bold" font-size="46" fill="#141414" stroke="#141414" stroke-width="1.1" stroke-linejoin="round">
<text x="1536.5" y="884.2" textLength="294" lengthAdjust="spacing">Starting point</text>
<text x="1536.5" y="940.5" textLength="279" lengthAdjust="spacing">in the middle</text>
</g>
</g>
<g filter="url(#softA)">
<line x1="1282.0" y1="444.5" x2="865.8" y2="658.8" stroke="#166a78" stroke-width="4.8"/><polygon points="848.0,668.0 863.0,649.0 872.1,666.8" fill="#166a78"/>
<line x1="1703.0" y1="560.4" x2="1173.9" y2="1173.5" stroke="#166a78" stroke-width="4.8"/><polygon points="1160.8,1188.6 1167.6,1165.4 1182.7,1178.5" fill="#166a78"/>
<line x1="1638.2" y1="842.7" x2="1679.8" y2="658.5" stroke="#166a78" stroke-width="5.0"/><polygon points="1684.0,640.0 1689.1,662.7 1669.6,658.3" fill="#166a78"/>
<line x1="1271.0" y1="69.0" x2="1462.2" y2="143.9" stroke="#166a78" stroke-width="5.0"/><polygon points="1478.5,150.3 1457.2,151.1 1463.4,135.3" fill="#166a78"/>
</g>
</svg>
</body>
</html>
